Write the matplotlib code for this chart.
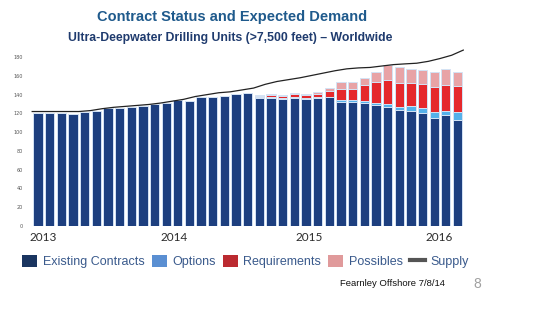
import numpy as np
import matplotlib
matplotlib.use("Agg")
import matplotlib.pyplot as plt
from matplotlib.patches import Patch
from matplotlib.lines import Line2D

# monthly units, Jan 2013 .. Jan 2016
existing = [120, 120, 120, 119, 121, 123, 126, 126, 127, 128, 130, 131, 134,
            133, 137, 138, 139, 141, 142, 136, 136, 135, 136, 135, 136, 137,
            132, 132, 131, 129, 127, 124, 123, 120, 115, 118, 113]
options = [0] * 19 + [1, 1, 1, 1, 1, 1, 1, 2, 2, 2, 2, 3, 3, 5, 6, 7, 5, 8]
requirements = [0] * 19 + [2, 3, 3, 4, 4, 4, 6, 12, 12, 17, 22, 26, 25, 24,
                           25, 26, 27, 28]
possibles = [0] * 19 + [1, 1, 1, 1, 1, 2, 3, 8, 8, 8, 11, 16, 17, 15, 15, 16,
                        17, 15]
# supply read at month boundaries
supply = [122, 122, 122, 122, 122, 123, 125, 126.5, 127.5, 128.5, 129.5, 131,
          133, 135, 138, 140, 142, 143, 145, 147, 151, 154, 156, 158, 160.5,
          163, 165.5, 167.5, 168.5, 169, 170.5, 172, 172.8, 173.5, 175.5,
          178.5, 182, 187.5]
year_labels = ["2013", "2014", "2015", "2016"]
year_pos = [0.47, 11.67, 23.26, 34.4]
yticks = list(range(0, 181, 20))

c_exist = "#1d3f7f"
c_opt = "#55b1ea"
c_req = "#e5282c"
c_poss = "#e8a3a6"

fig = plt.figure(figsize=(5.6, 3.27), dpi=100)
ax = fig.add_axes([0.0554, 0.309, 0.774, 0.545])

x = np.arange(len(existing))
ex = np.array(existing, float)
op = np.array(options, float)
rq = np.array(requirements, float)
ps = np.array(possibles, float)

kw = dict(width=0.8, edgecolor="#d4e3f5", linewidth=0.7)
ax.bar(x, ex, color=c_exist, **kw)
ax.bar(x, op, bottom=ex, color=c_opt, **kw)
ax.bar(x, rq, bottom=ex + op, color=c_req, **kw)
ax.bar(x, ps, bottom=ex + op + rq, color=c_poss, **kw)
ax.plot(np.arange(len(supply)) - 0.5, supply, color="#222222", lw=0.9)

ax.set_xlim(-0.6, 36.6)
ax.set_ylim(0, 190)
ax.set_yticks(yticks)
ax.tick_params(axis="y", labelsize=3.5, length=0, colors="#555555", pad=6)
ax.set_xticks([])
for s in ax.spines.values():
    s.set_visible(False)

for lab, p in zip(year_labels, year_pos):
    ax.text(p, -6, lab, ha="center", va="top", fontsize=8.5,
            family="Lato", color="#2b2b2b")

fig.text(0.415, 0.948, "Contract Status and Expected Demand", ha="center",
         va="center", fontsize=10.5, fontweight="bold", color="#1f5a8c",
         family="Liberation Sans")
fig.text(0.411, 0.885, "Ultra-Deepwater Drilling Units (>7,500 feet) \u2013 Worldwide",
         ha="center", va="center", fontsize=8.8, fontweight="bold",
         color="#1f3b6e", family="Liberation Sans")

handles = [Patch(facecolor="#1a3560", label="Existing Contracts"),
           Patch(facecolor="#5a8fd2", label="Options"),
           Patch(facecolor="#bb2a30", label="Requirements"),
           Patch(facecolor="#e09a9b", label="Possibles"),
           Line2D([], [], color="#555555", lw=3, label="Supply")]
leg = fig.legend(handles=handles, loc="center left", bbox_to_anchor=(0.02, 0.2),
                 ncol=5, frameon=False, handlelength=1.2,
                 handleheight=1.1, handletextpad=0.45, columnspacing=0.55,
                 prop={"family": "Liberation Sans", "size": 9})
for t in leg.get_texts():
    t.set_color("#3a5a8c")

fig.text(0.70, 0.133, "Fearnley Offshore 7/8/14", ha="center", va="center",
         fontsize=6.8, family="Liberation Sans", color="#111111")
fig.text(0.845, 0.133, "8", ha="left", va="center", fontsize=10,
         family="Liberation Sans", color="#a0a0a0")

fig.savefig("out.png", dpi=100, facecolor="white")
